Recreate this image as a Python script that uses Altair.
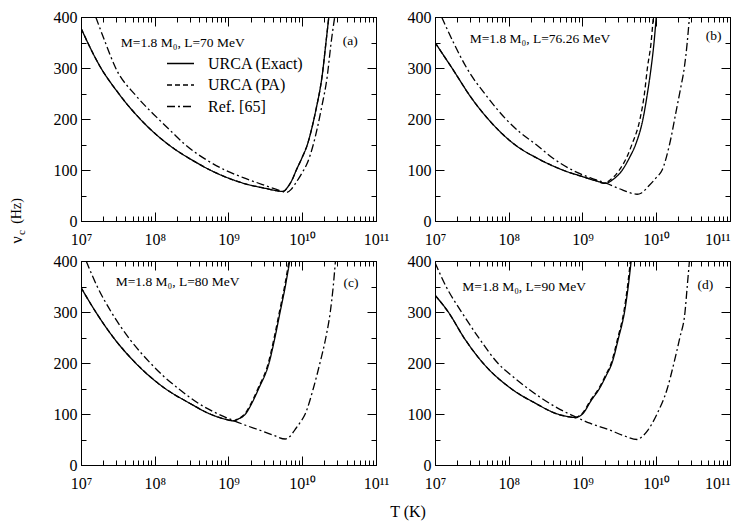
import altair as alt
import pandas as pd

FONT = "Liberation Serif"
W, H = 295, 204

series_names = ["URCA (Exact)", "URCA (PA)", "Ref. [65]"]
dash_styles = [[1, 0], [5, 3], [8, 3, 2, 3]]

# ---- panel (a): L = 70 MeV ----
a_exact_lgT = [7.0, 7.25, 7.5, 7.75, 8.0, 8.25, 8.5, 8.75, 9.0, 9.25, 9.5, 9.65, 9.74, 9.8, 9.86, 9.92, 10.0, 10.07, 10.13, 10.19, 10.27, 10.32, 10.36]
a_exact_nu = [378, 305, 252, 208, 172, 143, 120, 100, 84, 72, 64, 59.5, 58, 66, 80, 100, 125, 150, 182, 221, 285, 348, 400]
a_pa_lgT = [7.0, 7.25, 7.5, 7.75, 8.0, 8.25, 8.5, 8.75, 9.0, 9.25, 9.5, 9.65, 9.74, 9.8, 9.86, 9.92, 10.0, 10.07, 10.13, 10.19, 10.27, 10.32, 10.36]
a_pa_nu = [378, 305, 252, 208, 172, 143, 120, 100, 84, 72, 64, 59.5, 58, 66, 80, 100, 125, 150, 182, 221, 285, 348, 400]
a_ref_lgT = [7.2, 7.33, 7.47, 7.75, 8.05, 8.25, 8.41, 8.7, 8.95, 9.2, 9.45, 9.65, 9.79, 9.85, 9.9, 10.0, 10.07, 10.15, 10.26, 10.34, 10.39, 10.44]
a_ref_nu = [400, 350, 300, 245, 200, 172, 150, 120, 100, 85, 72, 62, 56, 62, 72, 95, 114, 150, 221, 285, 348, 400]

# ---- panel (b): L = 76.26 MeV ----
b_exact_lgT = [7.0, 7.23, 7.5, 7.72, 8.08, 8.4, 8.73, 9.0, 9.2, 9.32, 9.4, 9.54, 9.64, 9.72, 9.82, 9.88, 9.93, 9.97, 10.0]
b_exact_nu = [350, 300, 240, 200, 150, 122, 100, 87, 78, 74, 80, 100, 125, 150, 200, 250, 300, 350, 400]
b_pa_lgT = [7.0, 7.23, 7.5, 7.72, 8.08, 8.4, 8.73, 9.0, 9.2, 9.29, 9.37, 9.5, 9.6, 9.67, 9.78, 9.84, 9.88, 9.93, 9.96]
b_pa_nu = [350, 300, 240, 200, 150, 122, 100, 87, 78, 74, 80, 100, 125, 150, 200, 250, 300, 350, 400]
b_ref_lgT = [7.09, 7.25, 7.43, 7.7, 7.96, 8.15, 8.37, 8.6, 8.86, 9.1, 9.32, 9.54, 9.65, 9.74, 9.8, 9.9, 10.0, 10.08, 10.18, 10.28, 10.33, 10.38, 10.42, 10.45]
b_ref_nu = [400, 350, 300, 245, 200, 174, 150, 123, 100, 85, 74, 61, 55, 52.5, 55, 69, 85, 100, 150, 223, 260, 300, 350, 400]

# ---- panel (c): L = 80 MeV ----
c_exact_lgT = [7.0, 7.2, 7.45, 7.74, 8.14, 8.45, 8.75, 8.95, 9.07, 9.13, 9.23, 9.33, 9.41, 9.55, 9.63, 9.7, 9.77, 9.83]
c_exact_nu = [348, 300, 248, 200, 150, 123, 100, 90, 86.5, 90, 100, 125, 150, 200, 250, 300, 350, 400]
c_pa_lgT = [7.0, 7.2, 7.45, 7.74, 8.14, 8.45, 8.75, 8.95, 9.06, 9.12, 9.22, 9.32, 9.4, 9.54, 9.62, 9.69, 9.76, 9.82]
c_pa_nu = [348, 300, 248, 200, 150, 123, 100, 90, 86.5, 90, 100, 125, 150, 200, 250, 300, 350, 400]
c_ref_lgT = [7.07, 7.22, 7.41, 7.67, 7.94, 8.12, 8.32, 8.58, 8.86, 9.07, 9.25, 9.41, 9.6, 9.77, 9.84, 9.9, 9.97, 10.04, 10.15, 10.24, 10.32, 10.38, 10.42, 10.45]
c_ref_nu = [400, 350, 300, 245, 200, 174, 150, 122, 100, 87, 77, 69, 59, 51, 57, 69, 83, 100, 150, 200, 250, 300, 350, 400]

# ---- panel (d): L = 90 MeV ----
d_exact_lgT = [7.0, 7.18, 7.4, 7.65, 8.03, 8.35, 8.66, 8.8, 8.91, 8.95, 9.0, 9.12, 9.23, 9.32, 9.4, 9.49, 9.57, 9.62, 9.66]
d_exact_nu = [333, 300, 248, 200, 150, 122, 100, 95, 93, 95, 100, 127, 150, 175, 200, 250, 300, 350, 400]
d_pa_lgT = [7.0, 7.18, 7.4, 7.65, 8.03, 8.35, 8.66, 8.8, 8.9, 8.94, 8.99, 9.11, 9.22, 9.31, 9.39, 9.48, 9.56, 9.61, 9.65]
d_pa_nu = [333, 300, 248, 200, 150, 122, 100, 95, 92.5, 95, 100, 127, 150, 175, 200, 250, 300, 350, 400]
d_ref_lgT = [7.0, 7.15, 7.36, 7.6, 7.85, 8.05, 8.26, 8.54, 8.82, 8.91, 9.1, 9.36, 9.55, 9.74, 9.81, 9.89, 9.95, 10.01, 10.15, 10.24, 10.32, 10.39, 10.42, 10.45]
d_ref_nu = [397, 350, 300, 248, 200, 174, 150, 122, 100, 94, 82, 69, 58, 50, 56, 69, 83, 100, 150, 200, 250, 300, 350, 400]

# ---- annotations ----
annot_text = ["M=1.8 M\u2080, L=70 MeV", "M=1.8 M\u2080, L=76.26 MeV", "M=1.8 M\u2080, L=80 MeV", "M=1.8 M\u2080, L=90 MeV"]
annot_lgT = [7.54, 7.47, 7.47, 7.37]
annot_nu = [350, 357, 358, 349]
tag_text = ["(a)", "(b)", "(c)", "(d)"]
tag_lgT = [10.55, 10.67, 10.56, 10.56]
tag_nu = [352, 362, 357, 352]

x_ticks = [k * 10 ** d for d in range(7, 11) for k in range(1, 10)] + [10 ** 11]
y_ticks = [0, 50, 100, 150, 200, 250, 300, 350, 400]

X_MAJOR = "indexof([10000000,100000000,1000000000,10000000000,100000000000], datum.value) >= 0"
X_LABEL = ("datum.value == 1e7 ? '10\u2077' : datum.value == 1e8 ? '10\u2078' : "
           "datum.value == 1e9 ? '10\u2079' : datum.value == 1e10 ? '10\u00b9\u2070' : "
           "datum.value == 1e11 ? '10\u00b9\u00b9' : ''")
Y_MAJOR = "datum.value % 100 == 0"

xscale = alt.Scale(type="log", domain=[1e7, 1e11], nice=False)
yscale = alt.Scale(domain=[0, 400], nice=False, zero=False)


def x_axis(orient, labels, flush_last=False):
    kw = dict(orient=orient, values=x_ticks, labels=labels, title=None, grid=False,
              tickSize={"condition": {"test": X_MAJOR, "value": -9}, "value": -5},
              tickColor="black", tickWidth=1, domainColor="black", domainWidth=1,
              labelFont=FONT, labelFontSize=16, labelColor="black", labelPadding=19,
              labelOverlap=False, labelExpr=X_LABEL, labelFlush=False, labelBound=False)
    if flush_last:
        kw["labelAlign"] = {"condition": {"test": "datum.value == 1e11", "value": "right"}, "value": "center"}
    return alt.Axis(**kw)


def y_axis(orient, labels):
    return alt.Axis(orient=orient, values=y_ticks, labels=labels, title=None, grid=False,
                    tickSize={"condition": {"test": Y_MAJOR, "value": -9}, "value": -5},
                    tickColor="black", tickWidth=1, domainColor="black", domainWidth=1,
                    labelFont=FONT, labelFontSize=16, labelColor="black", labelPadding=13,
                    labelOverlap=False, labelExpr="datum.value % 100 == 0 ? datum.label : ''")


def make_df(parts):
    rows = []
    for name, lgT, nu in parts:
        for t, v in zip(lgT, nu):
            rows.append({"T": 10 ** t, "nu": v, "series": name})
    return pd.DataFrame(rows)


def panel(i, parts, legend=None, extra=None, flush_last=False):
    df = make_df(parts)
    lines = alt.Chart(df).mark_line(interpolate="monotone", strokeWidth=1.3, color="black", clip=True).encode(
        x=alt.X("T:Q", scale=xscale, axis=x_axis("bottom", True, flush_last)),
        y=alt.Y("nu:Q", scale=yscale, axis=y_axis("left", True)),
        strokeDash=alt.StrokeDash("series:N", scale=alt.Scale(domain=series_names, range=dash_styles),
                                  legend=legend),
    )
    ann_df = pd.DataFrame({
        "T": [10 ** annot_lgT[i], 10 ** tag_lgT[i]],
        "nu": [annot_nu[i], tag_nu[i]],
        "label": [annot_text[i], tag_text[i]],
    })
    ann = alt.Chart(ann_df).mark_text(align="left", baseline="middle", font=FONT, fontSize=13.5,
                                      color="black").encode(
        x=alt.X("T:Q", scale=xscale, axis=x_axis("top", False)),
        y=alt.Y("nu:Q", scale=yscale, axis=y_axis("right", False)),
        text="label:N",
    )
    layers = [lines, ann] + (extra or [])
    return alt.layer(*layers).resolve_axis(x="independent", y="independent").properties(width=W, height=H)


def free_text(txt, size, dx, dy, angle=0):
    return alt.Chart(pd.DataFrame({"t": [txt]})).mark_text(
        angle=angle, align="center", baseline="middle", font=FONT, fontSize=size, color="black"
    ).encode(x=alt.value(dx), y=alt.value(dy), text="t:N")


legend_a = alt.Legend(orient="none", legendX=91, legendY=38, title=None,
                      symbolType="M-1.8,0H1.8", symbolSize=225, symbolStrokeWidth=1.3,
                      symbolStrokeColor="black", labelFont=FONT, labelFontSize=16,
                      labelColor="black", labelOffset=19, rowPadding=4.5, padding=0)

ytitle = [
    free_text("\u03bd", 16, -64, 223, 270),
    free_text("c", 11, -59.5, 215.5, 270),
    free_text("(Hz)", 14, -64, 194, 270),
]
xtitle = [free_text("T (K)", 16, 327, H + 47)]

pa = panel(0, [(series_names[0], a_exact_lgT, a_exact_nu), (series_names[1], a_pa_lgT, a_pa_nu),
               (series_names[2], a_ref_lgT, a_ref_nu)], legend=legend_a, extra=ytitle)
pb = panel(1, [(series_names[0], b_exact_lgT, b_exact_nu), (series_names[1], b_pa_lgT, b_pa_nu),
               (series_names[2], b_ref_lgT, b_ref_nu)], legend=None, flush_last=True)
pc = panel(2, [(series_names[0], c_exact_lgT, c_exact_nu), (series_names[1], c_pa_lgT, c_pa_nu),
               (series_names[2], c_ref_lgT, c_ref_nu)], legend=None, extra=xtitle)
pd_ = panel(3, [(series_names[0], d_exact_lgT, d_exact_nu), (series_names[1], d_pa_lgT, d_pa_nu),
                (series_names[2], d_ref_lgT, d_ref_nu)], legend=None, flush_last=True)

chart = alt.concat(pa, pb, pc, pd_, columns=2, spacing={"row": 40, "column": 59}, bounds="flush").resolve_scale(
    strokeDash="independent"
).configure_view(stroke="black", strokeWidth=1).properties(padding=0, background="white")

chart.save("out.html", embed_options={"renderer": "svg", "actions": False})
